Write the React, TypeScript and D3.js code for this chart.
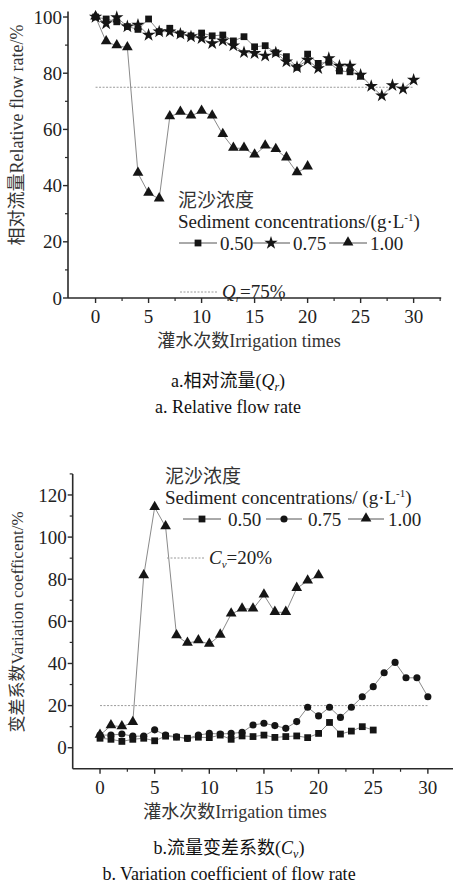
import React, { useEffect, useRef } from 'react';
import * as d3 from 'd3';

// irrigation times (x)
const times = [0, 1, 2, 3, 4, 5, 6, 7, 8, 9, 10, 11, 12, 13, 14, 15, 16, 17, 18, 19, 20, 21, 22, 23, 24, 25, 26, 27, 28, 29, 30];

// a. relative flow rate Qr (%)
const qr050 = [100, 99.3, 98.3, 96.6, 95.6, 99.3, 94.8, 96, 94, 93.3, 94.3, 93.3, 93.6, 91.5, 93, 89.4, 89.8, 87.3, 85.9, 82.1, 86.8, 83.5, 83.9, 80.8, 80.5, 78.9];
const qr075 = [100, 97.7, 99.9, 96.6, 97.2, 93.6, 94.8, 94.8, 94, 93, 92.4, 90.6, 91.6, 89.8, 87.4, 87.1, 86.2, 87.3, 84.1, 82.1, 84.7, 81.7, 85.3, 82.6, 82.6, 79.4, 75.4, 72, 75.7, 74.4, 77.6];
const qr100 = [100, 91.2, 89.8, 89.1, 44.4, 37.3, 35.3, 64.5, 66.1, 64.8, 66.5, 64.8, 58.2, 53.3, 53.3, 50.9, 54.1, 52.9, 49.9, 44.6, 46.7];

// b. variation coefficient Cv (%)
const cv050 = [4.5, 4, 3, 4, 4.5, 3.3, 5.5, 5, 4.5, 5, 4.8, 6, 4, 5.6, 5.3, 6, 4.9, 5.3, 5.6, 4.8, 6.8, 12, 6.5, 7.9, 10, 8.4];
const cv075 = [6, 6, 6.5, 5.5, 5.5, 8.5, 6, 5.2, 4.4, 6, 6.8, 6.5, 6.8, 7.3, 10.8, 11.6, 10.5, 9.2, 12.4, 19.2, 15.1, 19.2, 14.4, 19.2, 24.2, 29, 35.6, 40.5, 33.2, 33.2, 24.2];
const cv100 = [6, 10.5, 10, 12, 81.7, 114.1, 104.9, 53.2, 49.6, 50.8, 49.2, 53.5, 63.5, 65.9, 65.9, 72.5, 64.3, 64.3, 75.7, 79.2, 81.7];

const legendLabels = ['0.50', '0.75', '1.00'];
const xTicks = [0, 5, 10, 15, 20, 25, 30];
const xMinorTicks = [2.5, 7.5, 12.5, 17.5, 22.5, 27.5, 32.5];
const qrTicks = [0, 20, 40, 60, 80, 100];
const qrMinorTicks = [10, 30, 50, 70, 90];
const cvTicks = [0, 20, 40, 60, 80, 100, 120];
const cvMinorTicks = [10, 30, 50, 70, 90, 110, 130];
const qrLimit = 75;
const cvLimit = 20;

const FONT = '"Liberation Serif", "Times New Roman", "Noto Sans CJK SC", serif';
const LINE = '#8a8a8a';
const MARK = '#151515';
const AXIS = '#2a2a2a';

function drawMarker(g: any, shape: string, x: number, y: number) {
    const sym = shape === 'square' ? d3.symbolSquare
        : shape === 'star' ? d3.symbolStar
        : shape === 'circle' ? d3.symbolCircle
        : d3.symbolTriangle;
    const size = shape === 'square' ? 46 : shape === 'star' ? 55 : shape === 'circle' ? 40 : 50;
    g.append('path')
        .attr('d', d3.symbol().type(sym).size(size)())
        .attr('transform', 'translate(' + x + ',' + (shape === 'triangle' ? y - 0.5 : y) + ')')
        .attr('fill', MARK);
}

function drawPanel(svg: any, p: any) {
    const x = d3.scaleLinear().domain(p.xDomain).range(p.xRange);
    const y = d3.scaleLinear().domain(p.yDomain).range(p.yRange);
    const g = svg.append('g').attr('font-family', FONT);
    const x0 = p.xRange[0], y0 = p.yRange[0];

    // axes
    g.append('line').attr('x1', x0).attr('x2', x0).attr('y1', p.yRange[1]).attr('y2', y0)
        .style('stroke', AXIS).style('stroke-width', 1.6);
    g.append('line').attr('x1', x0).attr('x2', p.xRange[1]).attr('y1', y0).attr('y2', y0)
        .style('stroke', AXIS).style('stroke-width', 1.6);

    p.yTicks.forEach((t: number) => {
        g.append('line').attr('x1', x0 - 5).attr('x2', x0).attr('y1', y(t)).attr('y2', y(t))
            .style('stroke', AXIS).style('stroke-width', 1.4);
        g.append('text').attr('x', x0 - 6).attr('y', y(t)).attr('dy', '0.35em')
            .attr('text-anchor', 'end').attr('font-size', 19).attr('fill', '#222').text(t);
    });
    p.yMinor.forEach((t: number) => {
        g.append('line').attr('x1', x0 - 3).attr('x2', x0).attr('y1', y(t)).attr('y2', y(t))
            .style('stroke', AXIS).style('stroke-width', 1.2);
    });
    xTicks.forEach((t) => {
        g.append('line').attr('x1', x(t)).attr('x2', x(t)).attr('y1', y0).attr('y2', y0 + 5)
            .style('stroke', AXIS).style('stroke-width', 1.4);
        g.append('text').attr('x', x(t)).attr('y', y0 + 25)
            .attr('text-anchor', 'middle').attr('font-size', 19).attr('fill', '#222').text(t);
    });
    xMinorTicks.forEach((t) => {
        g.append('line').attr('x1', x(t)).attr('x2', x(t)).attr('y1', y0).attr('y2', y0 + 3)
            .style('stroke', AXIS).style('stroke-width', 1.2);
    });

    // reference line
    g.append('line').attr('x1', x(0)).attr('x2', x(30)).attr('y1', y(p.limit)).attr('y2', y(p.limit))
        .style('stroke', '#9a9a9a').style('stroke-width', 1).style('stroke-dasharray', '2,1.5');

    // series
    const line = d3.line<number>().x((d, i) => x(times[i])).y((d) => y(d));
    p.series.forEach((s: any) => {
        g.append('path').attr('d', line(s.values)).attr('fill', 'none')
            .style('stroke', LINE).style('stroke-width', 1);
    });
    p.series.forEach((s: any) => {
        s.values.forEach((v: number, i: number) => drawMarker(g, s.shape, x(times[i]), y(v)));
    });

    // legend
    const lg = p.legend;
    g.append('text').attr('x', lg.x).attr('y', lg.y).attr('font-size', 19).attr('fill', '#333').text('泥沙浓度');
    const sed = g.append('text').attr('x', lg.x).attr('y', lg.y + 21).attr('font-size', 19).attr('fill', '#222');
    sed.append('tspan').text(lg.sedText);
    sed.append('tspan').attr('dy', -7).attr('font-size', 11).text('-1');
    sed.append('tspan').attr('dy', 7).text(')');
    lg.items.forEach((it: any, i: number) => {
        g.append('line').attr('x1', it.x1).attr('x2', it.x2).attr('y1', lg.rowY).attr('y2', lg.rowY)
            .style('stroke', '#555').style('stroke-width', 1);
        drawMarker(g, p.series[i].shape, (it.x1 + it.x2) / 2, lg.rowY);
        g.append('text').attr('x', it.tx).attr('y', lg.rowY + 6.5).attr('font-size', 19).attr('fill', '#222')
            .text(legendLabels[i]);
    });
    g.append('line').attr('x1', lg.x + 2).attr('x2', lg.x + 39).attr('y1', lg.refY).attr('y2', lg.refY)
        .style('stroke', '#9a9a9a').style('stroke-width', 1).style('stroke-dasharray', '2,1.5');
    const ref = g.append('text').attr('x', lg.x + 44).attr('y', lg.refY + 6).attr('font-size', 19).attr('fill', '#222');
    ref.append('tspan').attr('font-style', 'italic').text(lg.refSym);
    ref.append('tspan').attr('font-style', 'italic').attr('dy', 4).attr('font-size', 11).text(lg.refSub);
    ref.append('tspan').attr('dy', -4).text('=' + p.limit + '%');

    // axis titles
    g.append('text').attr('transform', 'translate(' + 23 + ',' + p.yTitleY + ') rotate(-90)')
        .attr('text-anchor', 'middle').attr('font-size', p.yTitleSize).attr('fill', '#333').text(p.yTitle);
    g.append('text').attr('x', p.xTitleX).attr('y', y0 + 49).attr('text-anchor', 'middle')
        .attr('font-size', 18).attr('fill', '#333').text('灌水次数Irrigation times');

    // captions
    const c1 = g.append('text').attr('x', p.capX).attr('y', p.capY).attr('text-anchor', 'middle')
        .attr('font-size', 18).attr('fill', '#111');
    c1.append('tspan').text(p.capCn);
    c1.append('tspan').attr('font-style', 'italic').text(lg.refSym);
    c1.append('tspan').attr('font-style', 'italic').attr('dy', 4).attr('font-size', 12).text(lg.refSub);
    c1.append('tspan').attr('dy', -4).text(')');
    g.append('text').attr('x', p.capX).attr('y', p.capY + 26).attr('text-anchor', 'middle')
        .attr('font-size', 18).attr('fill', '#111').text(p.capEn);
}

export default function App() {
    const ref = useRef<SVGSVGElement>(null);

    useEffect(() => {
        const svg = d3.select(ref.current);
        svg.selectAll('*').remove();

        drawPanel(svg, {
            xDomain: [-2.6, 32.6], xRange: [68, 441.2],
            yDomain: [0, 102], yRange: [298, 11.4],
            yTicks: qrTicks, yMinor: qrMinorTicks, limit: qrLimit,
            series: [
                { values: qr050, shape: 'square' },
                { values: qr075, shape: 'star' },
                { values: qr100, shape: 'triangle' },
            ],
            legend: {
                x: 178, y: 207, sedText: 'Sediment concentrations/(g·L', rowY: 243, refY: 292,
                items: [{ x1: 179, x2: 217, tx: 220 }, { x1: 252, x2: 290, tx: 293 }, { x1: 329, x2: 367, tx: 370 }],
                refSym: 'Q', refSub: 'r',
            },
            yTitle: '相对流量Relative flow rate/%', yTitleY: 135, yTitleSize: 18,
            xTitleX: 249,
            capX: 228, capY: 387, capCn: 'a.相对流量(',
            capEn: 'a. Relative flow rate',
        });

        drawPanel(svg, {
            xDomain: [-2.5, 32.3], xRange: [72.7, 453],
            yDomain: [-10, 130], yRange: [768.8, 473.9],
            yTicks: cvTicks, yMinor: cvMinorTicks, limit: cvLimit,
            series: [
                { values: cv050, shape: 'square' },
                { values: cv075, shape: 'circle' },
                { values: cv100, shape: 'triangle' },
            ],
            legend: {
                x: 165, y: 483, sedText: 'Sediment concentrations/ (g·L', rowY: 519, refY: 558,
                items: [{ x1: 183, x2: 221, tx: 228 }, { x1: 266, x2: 302, tx: 308 }, { x1: 348, x2: 384, tx: 388 }],
                refSym: 'C', refSub: 'v',
            },
            yTitle: '变差系数Variation coefficent/%', yTitleY: 622, yTitleSize: 17,
            xTitleX: 235,
            capX: 229, capY: 854, capCn: 'b.流量变差系数(',
            capEn: 'b. Variation coefficient of flow rate',
        });
    }, []);

    return (
        <svg ref={ref} width={453} height={892}
            style={{ position: 'absolute', left: 0, top: 0, background: '#fff' }} />
    );
}
